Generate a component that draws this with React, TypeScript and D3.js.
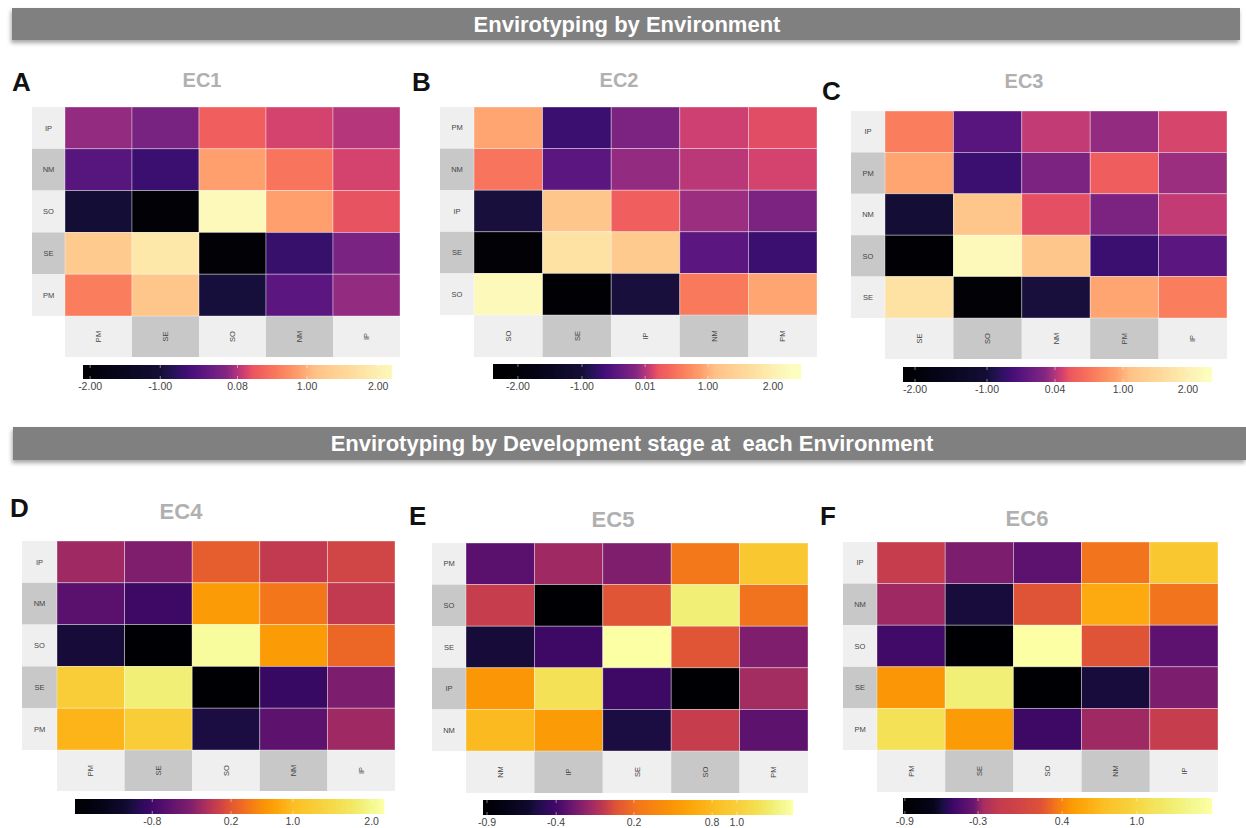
import React from 'react';
import * as d3 from 'd3';

// ---- Panel A (EC1) ----
const rowsA = ['IP', 'NM', 'SO', 'SE', 'PM'];
const colsA = ['PM', 'SE', 'SO', 'NM', 'IP'];
const valuesA = [
  [-0.02, -0.17, 0.36, 0.19, 0.09],
  [-0.44, -0.67, 0.9, 0.55, 0.19],
  [-1.0, -2.1, 2.2, 0.9, 0.27],
  [1.28, 1.84, -2.1, -0.7, -0.14],
  [0.63, 1.19, -0.97, -0.4, -0.02],
];
const ticksA = [-2, -1, 0.08, 1, 2];
const tickLabelsA = ['-2.00', '-1.00', '0.08', '1.00', '2.00'];

// ---- Panel B (EC2) ----
const rowsB = ['PM', 'NM', 'IP', 'SE', 'SO'];
const colsB = ['SO', 'SE', 'IP', 'NM', 'PM'];
const valuesB = [
  [0.93, -0.69, -0.2, 0.1, 0.17],
  [0.51, -0.45, -0.09, 0.035, 0.12],
  [-0.97, 1.19, 0.3, -0.06, -0.2],
  [-2.1, 1.75, 1.28, -0.45, -0.69],
  [2.2, -2.15, -0.97, 0.55, 0.93],
];
const ticksB = [-2, -1, 0.01, 1, 2];
const tickLabelsB = ['-2.00', '-1.00', '0.01', '1.00', '2.00'];

// ---- Panel C (EC3) ----
const rowsC = ['IP', 'PM', 'NM', 'SO', 'SE'];
const colsC = ['SE', 'SO', 'NM', 'PM', 'IP'];
const valuesC = [
  [0.61, -0.46, 0.09, -0.06, 0.16],
  [0.93, -0.68, -0.17, 0.32, -0.03],
  [-1.0, 1.19, 0.21, -0.17, 0.09],
  [-2.15, 2.2, 1.19, -0.68, -0.43],
  [1.75, -2.1, -0.97, 0.93, 0.61],
];
const ticksC = [-2, -1, 0.04, 1, 2];
const tickLabelsC = ['-2.00', '-1.00', '0.04', '1.00', '2.00'];

// ---- Panel D (EC4) ----
const rowsD = ['IP', 'NM', 'SO', 'SE', 'PM'];
const colsD = ['PM', 'SE', 'SO', 'NM', 'IP'];
const valuesD = [
  [-0.18, -0.32, 0.26, -0.01, 0.075],
  [-0.61, -0.83, 0.71, 0.43, -0.01],
  [-1.09, -1.75, 2.1, 0.71, 0.32],
  [1.27, 1.85, -1.78, -0.86, -0.35],
  [0.92, 1.27, -1.06, -0.58, -0.18],
];
const ticksD = [-0.8, 0.2, 1.0, 2.0];
const tickLabelsD = ['-0.8', '0.2', '1.0', '2.0'];

// ---- Panel E (EC5) ----
const rowsE = ['PM', 'SO', 'SE', 'IP', 'NM'];
const colsE = ['NM', 'IP', 'SE', 'SO', 'PM'];
const valuesE = [
  [-0.33, -0.13, -0.22, 0.23, 0.93],
  [-0.02, -0.93, 0.07, 1.28, 0.21],
  [-0.57, -0.42, 1.45, 0.07, -0.22],
  [0.51, 1.18, -0.42, -0.93, -0.12],
  [0.79, 0.55, -0.55, -0.02, -0.32],
];
const ticksE = [-0.9, -0.4, 0.2, 0.8, 1.0];
const tickLabelsE = ['-0.9', '-0.4', '0.2', '0.8', '1.0'];

// ---- Panel F (EC6) ----
const rowsF = ['IP', 'NM', 'SO', 'SE', 'PM'];
const colsF = ['PM', 'SE', 'SO', 'NM', 'IP'];
const valuesF = [
  [-0.09, -0.31, -0.39, 0.34, 0.84],
  [-0.27, -0.6, 0.23, 0.59, 0.34],
  [-0.49, -0.91, 1.61, 0.23, -0.39],
  [0.46, 1.3, -0.91, -0.6, -0.31],
  [1.11, 0.48, -0.5, -0.27, -0.09],
];
const ticksF = [-0.9, -0.3, 0.4, 1.0];
const tickLabelsF = ['-0.9', '-0.3', '0.4', '1.0'];

const FONT = '"Liberation Sans", Arial, Helvetica, sans-serif';

type PanelSpec = {
  letter: string;
  title: string;
  rows: string[];
  cols: string[];
  values: number[][];
  ticks: number[];
  tickLabels: string[];
  // colour-bar ends (values) and relative tick positions along the bar
  barEnds: [number, number];
  tickFrac: number[];
  // value -> colormap position stops
  colorDomain: number[];
  colorRange: number[];
  interp: (t: number) => string;
  // layout
  labelX: number;
  heatX: number;
  heatR: number;
  top: number;
  bottom: number;
  bandBottom: number;
  bar: [number, number, number, number];
  letterPos: [number, number];
  titlePos: [number, number];
  titleSize: number;
};

const topStops = (mid: number) => [-2.2, -1, mid - 0.15, mid + 0.2, 0.9, 1.1, 2.3];
const topT = [0, 0.1, 0.38, 0.64, 0.8, 0.87, 1];

const panels: PanelSpec[] = [
  {
    letter: 'A', title: 'EC1', rows: rowsA, cols: colsA, values: valuesA,
    ticks: ticksA, tickLabels: tickLabelsA, barEnds: [-2.1, 2.2],
    tickFrac: [0.023, 0.25, 0.5, 0.725, 0.955],
    colorDomain: topStops(0.08), colorRange: topT, interp: d3.interpolateMagma,
    labelX: 32, heatX: 65, heatR: 400, top: 107, bottom: 316, bandBottom: 357,
    bar: [83, 392, 365, 379], letterPos: [12, 91], titlePos: [202, 87], titleSize: 20,
  },
  {
    letter: 'B', title: 'EC2', rows: rowsB, cols: colsB, values: valuesB,
    ticks: ticksB, tickLabels: tickLabelsB, barEnds: [-2.39, 2.43],
    tickFrac: [0.081, 0.289, 0.494, 0.698, 0.909],
    colorDomain: topStops(0.01), colorRange: topT, interp: d3.interpolateMagma,
    labelX: 440, heatX: 474, heatR: 817, top: 107, bottom: 315, bandBottom: 357,
    bar: [493, 801, 364, 379], letterPos: [412, 91], titlePos: [619, 87], titleSize: 20,
  },
  {
    letter: 'C', title: 'EC3', rows: rowsC, cols: colsC, values: valuesC,
    ticks: ticksC, tickLabels: tickLabelsC, barEnds: [-2.17, 2.37],
    tickFrac: [0.039, 0.272, 0.492, 0.712, 0.922],
    colorDomain: topStops(0.04), colorRange: topT, interp: d3.interpolateMagma,
    labelX: 851, heatX: 885, heatR: 1227, top: 111, bottom: 318, bandBottom: 359,
    bar: [903, 1212, 367, 382], letterPos: [822, 100], titlePos: [1024, 88], titleSize: 20,
  },
  {
    letter: 'D', title: 'EC4', rows: rowsD, cols: colsD, values: valuesD,
    ticks: ticksD, tickLabels: tickLabelsD, barEnds: [-1.78, 2.16],
    tickFrac: [0.25, 0.505, 0.705, 0.96],
    colorDomain: [-1.78, -1.15, -0.8, -0.32, -0.05, 0.2, 0.58, 1.0, 1.73, 2.16],
    colorRange: [0, 0.08, 0.2, 0.35, 0.5, 0.62, 0.75, 0.85, 0.93, 1],
    interp: d3.interpolateInferno,
    labelX: 22, heatX: 57, heatR: 395, top: 541, bottom: 750, bandBottom: 791,
    bar: [75, 384, 799, 814], letterPos: [10, 517], titlePos: [181, 519], titleSize: 22,
  },
  {
    letter: 'E', title: 'EC5', rows: rowsE, cols: colsE, values: valuesE,
    ticks: ticksE, tickLabels: tickLabelsE, barEnds: [-0.93, 1.45],
    tickFrac: [0.013, 0.236, 0.487, 0.739, 0.819],
    colorDomain: [-0.93, -0.6, -0.4, -0.22, -0.05, 0.05, 0.23, 0.47, 0.83, 1.18, 1.45],
    colorRange: [0, 0.08, 0.2, 0.35, 0.5, 0.6, 0.7, 0.76, 0.85, 0.92, 1],
    interp: d3.interpolateInferno,
    labelX: 432, heatX: 466, heatR: 808, top: 543, bottom: 751, bandBottom: 793,
    bar: [483, 793, 800, 815], letterPos: [409, 525], titlePos: [613, 527], titleSize: 22,
  },
  {
    letter: 'F', title: 'EC6', rows: rowsF, cols: colsF, values: valuesF,
    ticks: ticksF, tickLabels: tickLabelsF, barEnds: [-0.915, 1.61],
    tickFrac: [0.006, 0.243, 0.515, 0.757],
    colorDomain: [-0.915, -0.66, -0.49, -0.33, -0.26, -0.13, 0.22, 0.35, 0.48, 0.73, 1.11, 1.61],
    colorRange: [0, 0.05, 0.2, 0.3, 0.45, 0.52, 0.6, 0.7, 0.78, 0.85, 0.92, 1],
    interp: d3.interpolateInferno,
    labelX: 843, heatX: 877, heatR: 1218, top: 542, bottom: 750, bandBottom: 792,
    bar: [903, 1212, 798, 814], letterPos: [820, 525], titlePos: [1027, 526], titleSize: 22,
  },
];

const LIGHT = '#efefef';
const DARK = '#c8c8c8';

function Panel({ p }: { p: PanelSpec }) {
  const x = d3.scaleBand<string>().domain(p.cols).range([p.heatX, p.heatR]);
  const y = d3.scaleBand<string>().domain(p.rows).range([p.top, p.bottom]);
  const tScale = d3.scaleLinear().domain(p.colorDomain).range(p.colorRange).clamp(true);
  const color = (v: number) => p.interp(tScale(v));

  const [bx0, bx1, by0, by1] = p.bar;
  const posDomain = [p.barEnds[0], ...p.ticks, p.barEnds[1]];
  const posRange = [0, ...p.tickFrac, 1].map((f) => bx0 + f * (bx1 - bx0));
  const barPos = d3.scaleLinear().domain(posDomain).range(posRange);
  const barSteps = d3.range(bx0, bx1, 1);

  return (
    <g>
      <text x={p.letterPos[0]} y={p.letterPos[1]} fontFamily={FONT} fontWeight="bold" fontSize={26} fill="#111">
        {p.letter}
      </text>
      <text x={p.titlePos[0]} y={p.titlePos[1]} fontFamily={FONT} fontWeight="bold" fontSize={p.titleSize}
        fill="#b0b0b0" textAnchor="middle">
        {p.title}
      </text>

      {/* row label strip */}
      {p.rows.map((r, i) => (
        <g key={'r' + r}>
          <rect x={p.labelX} y={y(r)} width={p.heatX - p.labelX} height={y.bandwidth()}
            fill={i % 2 === 0 ? LIGHT : DARK} />
          <text x={(p.labelX + p.heatX) / 2} y={(y(r) as number) + y.bandwidth() / 2}
            dy="0.35em" textAnchor="middle" fontFamily={FONT} fontSize={7.5} fill="#444">
            {r}
          </text>
        </g>
      ))}

      {/* column label strip */}
      {p.cols.map((c, j) => {
        const cx = (x(c) as number) + x.bandwidth() / 2;
        const cy = (p.bottom + p.bandBottom) / 2;
        return (
          <g key={'c' + c}>
            <rect x={x(c)} y={p.bottom} width={x.bandwidth()} height={p.bandBottom - p.bottom}
              fill={j % 2 === 0 ? LIGHT : DARK} />
            <text x={cx} y={cy} dy="0.35em" textAnchor="middle" fontFamily={FONT} fontSize={7.5}
              fill="#444" transform={`rotate(-90 ${cx} ${cy})`}>
              {c}
            </text>
          </g>
        );
      })}

      {/* heat cells */}
      {p.values.map((row, i) =>
        row.map((v, j) => (
          <rect key={`${i}-${j}`} x={x(p.cols[j])} y={y(p.rows[i])} width={x.bandwidth()}
            height={y.bandwidth()} fill={color(v)} stroke="rgba(255,255,255,0.45)" strokeWidth={0.8} />
        ))
      )}

      {/* colour bar */}
      {barSteps.map((px) => (
        <rect key={'b' + px} x={px} y={by0} width={1.2} height={by1 - by0}
          fill={color(barPos.invert(px + 0.5))} />
      ))}
      {p.ticks.map((t, k) => {
        const tx = barPos(t);
        return (
          <g key={'t' + k}>
            <line x1={tx} x2={tx} y1={by0} y2={by0 + 3} stroke="#fff" strokeOpacity={0.6} strokeWidth={0.8} />
            <line x1={tx} x2={tx} y1={by1 - 3} y2={by1} stroke="#fff" strokeOpacity={0.6} strokeWidth={0.8} />
            <text x={tx} y={by1 + 11} textAnchor="middle" fontFamily={FONT} fontSize={10.5} fill="#444">
              {p.tickLabels[k]}
            </text>
          </g>
        );
      })}
    </g>
  );
}

function Banner({ x, y, w, h, label, cx }: { x: number; y: number; w: number; h: number; label: string; cx: number }) {
  return (
    <g>
      <rect x={x} y={y} width={w} height={h} fill="#808080" filter="url(#bannerShadow)" />
      <text x={cx} y={y + h / 2} dy="0.36em" textAnchor="middle" fontFamily={FONT} fontWeight="bold"
        fontSize={22} fill="#ffffff" style={{ whiteSpace: 'pre' }}>
        {label}
      </text>
    </g>
  );
}

export default function App() {
  return (
    <svg width={1246} height={828} viewBox="0 0 1246 828"
      style={{ position: 'absolute', left: 0, top: 0, background: '#fff' }}>
      <defs>
        <filter id="bannerShadow" x="-5%" y="-30%" width="110%" height="180%">
          <feDropShadow dx={-1} dy={3} stdDeviation={2} floodColor="#000" floodOpacity={0.35} />
        </filter>
      </defs>
      <rect width={1246} height={828} fill="#fff" />
      <Banner x={12} y={8} w={1228} h={32} label="Envirotyping by Environment" cx={627} />
      <Banner x={13} y={427} w={1233} h={33} label="Envirotyping by Development stage at  each Environment" cx={632} />
      {panels.map((p) => (
        <Panel key={p.letter} p={p} />
      ))}
    </svg>
  );
}
